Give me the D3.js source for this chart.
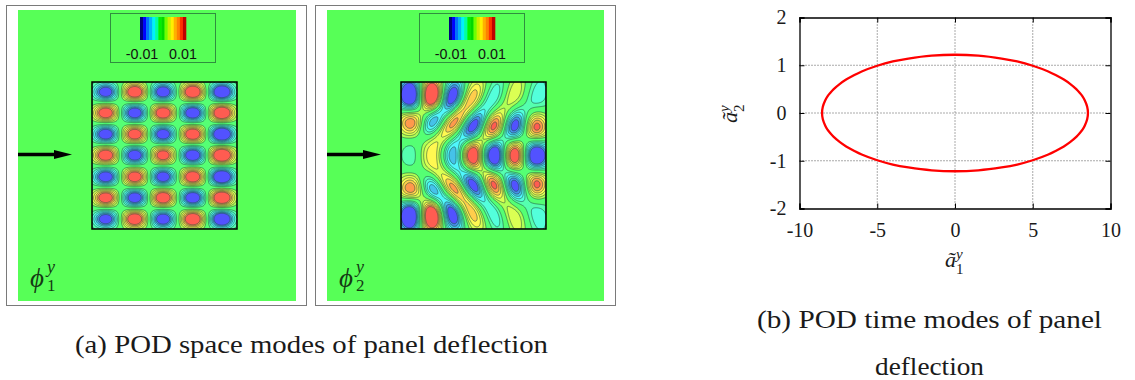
<!DOCTYPE html>
<html><head><meta charset="utf-8">
<script src="https://cdn.jsdelivr.net/npm/d3@7"></script>
<style>html,body{margin:0;background:#fff}svg{display:block}text{font-family:"Liberation Serif",serif;fill:#1a1a1a}</style>
</head><body><svg id="c" width="1135" height="380"></svg>
<script>
// ---- data ----
const legendColors=["#00007f","#0000ff","#0070ff","#00b0ff","#00f0ff","#00ffa0","#00f000","#00d800","#70ff00","#c8f000","#ffee00","#ffb000","#ff8000","#ff3000","#c00000"];
const legendLabels=["-0.01","0.01"];
// space mode 1: lobe centres and amplitudes
const mode1Cols=[0.095,0.295,0.49,0.695,0.895];
const mode1Rows=[0.068,0.21,0.355,0.498,0.645,0.787,0.932];
const mode1Amps=[
 [-0.95,1.05,-1.0,1.1,-1.15],
 [1.0,-1.0,1.05,-1.05,1.15],
 [-1.0,1.0,-0.98,1.05,-1.2],
 [1.03,-1.0,0.95,-1.05,1.2],
 [-1.0,1.0,-0.98,1.05,-1.2],
 [1.0,-1.0,1.05,-1.05,1.15],
 [-0.95,1.05,-1.0,1.1,-1.15]];
// space mode 2: [u, v, amplitude, sigmaU, sigmaV, tilt]
const mode2Lobes=[
 [.065,.09,-1.35,.06,.08,0],[.21,.09,1.35,.06,.08,0],[.355,.1,-1.1,.055,.085,.3],
 [.495,.11,.66,.06,.11,.5],[.635,.11,-.5,.06,.12,.4],[.78,.1,.48,.065,.13,.3],[.93,.13,-.42,.07,.15,.2],
 [.065,.27,.85,.06,.07,0],[.22,.27,-.82,.05,.085,.5],[.355,.29,.85,.05,.1,.6],
 [.49,.31,-1.1,.055,.095,.5],[.63,.315,1.1,.055,.09,.35],[.78,.305,-1.15,.055,.09,.25],[.93,.315,1.2,.06,.085,0],
 [.07,.5,-.26,.055,.09,0],[.21,.5,.46,.065,.13,0],[.35,.5,-.62,.055,.11,0],
 [.49,.5,1.2,.055,.09,0],[.64,.5,-1.35,.06,.095,0],[.78,.5,1.35,.06,.095,0],[.93,.5,-1.4,.065,.095,0],
 [.065,.73,.85,.06,.07,0],[.22,.73,-.82,.05,.085,-.5],[.355,.71,.85,.05,.1,-.6],
 [.49,.69,-1.1,.055,.095,-.5],[.63,.685,1.1,.055,.09,-.35],[.78,.695,-1.15,.055,.09,-.25],[.93,.685,1.2,.06,.085,0],
 [.065,.91,-1.35,.06,.08,0],[.21,.91,1.35,.06,.08,0],[.355,.9,-1.1,.055,.085,-.3],
 [.495,.89,.66,.06,.11,-.5],[.635,.89,-.5,.06,.12,-.4],[.78,.9,.48,.065,.13,-.3],[.93,.87,-.42,.07,.15,-.2]];
// time modes: closed orbit read at these points
const orbitHalfX=[-8.55,-8.5,-8.35,-8.2,-8,-7.8,-7.4,-7,-6.5,-6,-5,-4,-3,-1.5,0,1.5,3,4,5,6,6.5,7,7.4,7.8,8,8.2,8.35,8.5,8.55];
const orbitHalfY=[0,.13,.26,.35,.43,.5,.61,.7,.79,.87,.99,1.08,1.14,1.2,1.22,1.2,1.14,1.08,.99,.87,.79,.7,.61,.5,.43,.35,.26,.13,0];
const xTicks=[-10,-5,0,5,10];
const yTicks=[-2,-1,0,1,2];
const captionA="(a) POD space modes of panel deflection";
const captionB=["(b) POD time modes of panel","deflection"];

const svg=d3.select("#c");
const color=d3.scaleLinear().domain([-1,-.75,-.5,-.2,0,.2,.5,.75,1]).range(["#5252ff","#3fa8e0","#52ffff","#55ffa8","#55ff55","#a8ff55","#ffff52","#ffb84a","#ff5252"]).clamp(true);
const levels=d3.range(-.9,.901,.15).filter(t=>Math.abs(t)>.05);

function lobesField(lobes,n,gain){
  const v=new Float64Array(n*n);
  for(let j=0;j<n;j++)for(let i=0;i<n;i++){
    const u=(i+.5)/n,w=(j+.5)/n;let s=0;
    for(const [cu,cv,a,su,sv,t] of lobes){
      const du=u-cu,dv=w-cv,c=Math.cos(t),k=Math.sin(t);
      const p=(du*c+dv*k)/su,q=(-du*k+dv*c)/sv;
      s+=gain*a*Math.exp(-.5*(p*p+q*q));
    }
    v[j*n+i]=s;
  }
  return v;
}
function drawPanel(cfg){
  const g=svg.append("g");
  g.append("rect").attr("x",cfg.fx+.5).attr("y",5.5).attr("width",300).attr("height",300).attr("fill","#fff").attr("stroke","#7a7a7a");
  g.append("rect").attr("x",cfg.gx).attr("y",10).attr("width",cfg.gw).attr("height",291).attr("fill","#57ff57");
  // legend
  g.append("rect").attr("x",cfg.lx+.5).attr("y",13.5).attr("width",105).attr("height",49).attr("fill","none").attr("stroke","#2f8f3f");
  const b=d3.scaleBand().domain(d3.range(legendColors.length)).range([cfg.lx+30,cfg.lx+76]);
  g.selectAll(null).data(legendColors).join("rect").attr("x",(d,i)=>b(i)).attr("y",17).attr("width",b.bandwidth()+.3).attr("height",23).attr("fill",d=>d);
  g.selectAll(null).data(legendLabels).join("text").attr("x",(d,i)=>cfg.lx+[32,73][i]).attr("y",58.5).attr("text-anchor","middle")
    .style("font-family","Liberation Sans").style("font-size","14.3px").style("fill","#111").text(d=>d);
  // field
  const n=220;
  const values=lobesField(cfg.lobes,n,cfg.gain);
  const sx=d3.scaleLinear().domain([0,n]).range([cfg.bx,cfg.bx+145]);
  const sy=d3.scaleLinear().domain([0,n]).range([82,229]);
  const path=d3.geoPath(d3.geoTransform({point(x,y){this.stream.point(sx(x),sy(y));}}));
  const cs=d3.contours().size([n,n]).smooth(true).thresholds(levels)(Array.from(values));
  const clipId="clip"+cfg.bx;
  g.append("clipPath").attr("id",clipId).append("rect").attr("x",cfg.bx).attr("y",82).attr("width",145).attr("height",147);
  const f=g.append("g").attr("clip-path",`url(#${clipId})`);
  f.append("rect").attr("x",cfg.bx).attr("y",82).attr("width",145).attr("height",147).attr("fill",color(-1));
  f.selectAll("path").data(cs).join("path").attr("d",path)
    .attr("fill",d=>color(d.value+.075)).attr("stroke","#1d4a3a").attr("stroke-opacity",.8).attr("stroke-width",.7);
  g.append("rect").attr("x",cfg.bx).attr("y",82).attr("width",145).attr("height",147).attr("fill","none").attr("stroke","#000").attr("stroke-width",1.5);
  // arrow
  g.append("line").attr("x1",cfg.gx).attr("x2",cfg.gx+40).attr("y1",154.5).attr("y2",154.5).attr("stroke","#000").attr("stroke-width",3.4);
  g.append("path").attr("d",`M${cfg.gx+36},150L${cfg.gx+54},154.5L${cfg.gx+36},159Z`).attr("fill","#000");
  // symbol
  const t=g.append("g").attr("transform",`translate(${cfg.gx+12},0)`);
  t.append("text").attr("x",0).attr("y",287).style("font-size","27px").style("font-style","italic").style("fill","#143a14").text("ϕ");
  t.append("text").attr("x",17).attr("y",273).style("font-size","18px").style("font-style","italic").style("fill","#143a14").text("y");
  t.append("text").attr("x",17).attr("y",291).style("font-size","17px").style("fill","#143a14").text(cfg.idx);
}
const mode1Lobes=[];
mode1Rows.forEach((r,j)=>mode1Cols.forEach((c,i)=>mode1Lobes.push([c,r,mode1Amps[j][i],.058,.042,0])));
drawPanel({fx:6,gx:18,gw:278,lx:110,bx:92,lobes:mode1Lobes,gain:1.28,idx:"1"});
drawPanel({fx:315,gx:327,gw:277,lx:419,bx:401,lobes:mode2Lobes,gain:1.2,idx:"2"});

// time-mode plot
const x=d3.scaleLinear().domain([-10,10]).range([799.5,1110.5]);
const y=d3.scaleLinear().domain([-2,2]).range([208.5,17.5]);
const p=svg.append("g");
p.append("g").selectAll("line").data(xTicks.slice(1,-1)).join("line").attr("x1",d=>x(d)).attr("x2",d=>x(d)).attr("y1",y(-2)).attr("y2",y(2)).attr("stroke","#555").attr("stroke-dasharray","1 2");
p.append("g").selectAll("line").data(yTicks.slice(1,-1)).join("line").attr("x1",x(-10)).attr("x2",x(10)).attr("y1",d=>y(d)).attr("y2",d=>y(d)).attr("stroke","#555").attr("stroke-dasharray","1 2");
p.append("g").attr("transform",`translate(0,${y(-2)})`).call(d3.axisBottom(x).tickValues(xTicks).tickSize(-5).tickPadding(14).tickFormat(d=>String(d)));
p.append("g").attr("transform",`translate(${x(-10)},0)`).call(d3.axisLeft(y).tickValues(yTicks).tickSize(-5).tickPadding(13).tickFormat(d=>String(d)));
p.append("g").attr("transform",`translate(0,${y(2)})`).call(d3.axisTop(x).tickValues(xTicks).tickSize(-5).tickFormat(""));
p.append("g").attr("transform",`translate(${x(10)},0)`).call(d3.axisRight(y).tickValues(yTicks).tickSize(-5).tickFormat(""));
p.selectAll(".domain").attr("stroke","#000").attr("stroke-width",1.3);
p.selectAll(".tick line").attr("stroke","#000");
p.selectAll(".tick text").style("font-family","Liberation Serif").style("font-size","20px").style("fill","#1a1a1a");
const orbit=[...orbitHalfX.map((v,i)=>[v,orbitHalfY[i]]),...orbitHalfX.slice(1,-1).reverse().map((v,i)=>[v,-orbitHalfY.slice(1,-1).reverse()[i]])];
p.append("path").datum(orbit)
  .attr("d",d3.line().x(d=>x(d[0])).y(d=>y(d[1])).curve(d3.curveCatmullRomClosed))
  .attr("fill","none").attr("stroke","#f00").attr("stroke-width",2.3);
// axis titles
function atilde(g,sub){
  g.append("text").attr("x",0).attr("y",0).style("font-size","22px").style("font-style","italic").text("ã");
  g.append("text").attr("x",11).attr("y",-8).style("font-size","15px").style("font-style","italic").text("y");
  g.append("text").attr("x",11).attr("y",7).style("font-size","15px").text(sub);
}
atilde(svg.append("g").attr("transform","translate(945,267)"),"1");
atilde(svg.append("g").attr("transform","translate(737,123) rotate(-90)"),"2");
// captions
function cap(t,cx,yy,w){svg.append("text").attr("x",cx).attr("y",yy).attr("text-anchor","middle").attr("textLength",w).attr("lengthAdjust","spacingAndGlyphs").style("font-size","26px").text(t);}
cap(captionA,311.5,353,473);
cap(captionB[0],929.5,328,345);
cap(captionB[1],929.5,375,109);
</script></body></html>
